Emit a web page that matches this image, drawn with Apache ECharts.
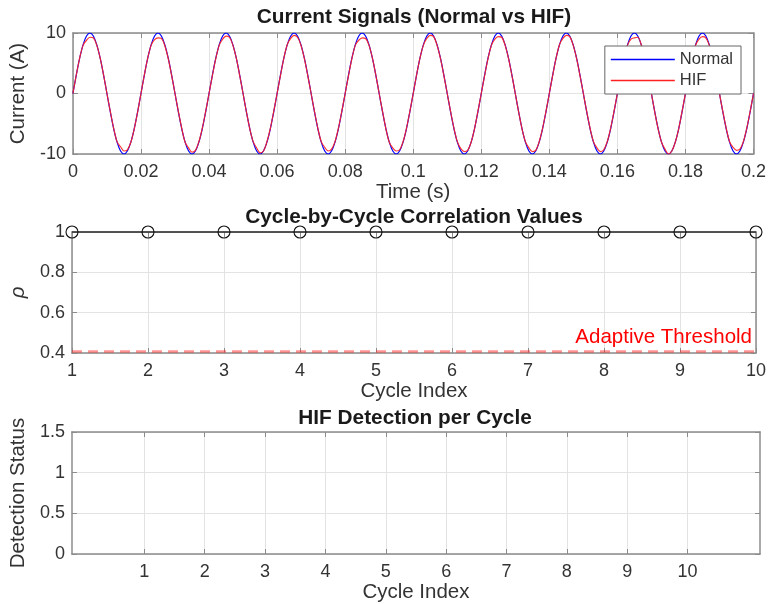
<!DOCTYPE html>
<html>
<head>
<meta charset="utf-8">
<script src="https://cdn.jsdelivr.net/npm/echarts@6/dist/echarts.min.js"></script>
<style>
  html, body { margin: 0; padding: 0; background: #fff; }
  #main { width: 769px; height: 604px; }
</style>
</head>
<body>
<div id="main"></div>
<script>
// sampling interval of the current signals (s)
var sampleStep = 0.001;

// normal current, one row per 50 Hz cycle
var normalCurrent = [
  0, 3.09, 5.88, 8.09, 9.51, 10, 9.51, 8.09, 5.88, 3.09, 0, -3.09, -5.88, -8.09, -9.51, -10, -9.51, -8.09, -5.88, -3.09,
  0, 3.09, 5.88, 8.09, 9.51, 10, 9.51, 8.09, 5.88, 3.09, 0, -3.09, -5.88, -8.09, -9.51, -10, -9.51, -8.09, -5.88, -3.09,
  0, 3.09, 5.88, 8.09, 9.51, 10, 9.51, 8.09, 5.88, 3.09, 0, -3.09, -5.88, -8.09, -9.51, -10, -9.51, -8.09, -5.88, -3.09,
  0, 3.09, 5.88, 8.09, 9.51, 10, 9.51, 8.09, 5.88, 3.09, 0, -3.09, -5.88, -8.09, -9.51, -10, -9.51, -8.09, -5.88, -3.09,
  0, 3.09, 5.88, 8.09, 9.51, 10, 9.51, 8.09, 5.88, 3.09, 0, -3.09, -5.88, -8.09, -9.51, -10, -9.51, -8.09, -5.88, -3.09,
  0, 3.09, 5.88, 8.09, 9.51, 10, 9.51, 8.09, 5.88, 3.09, 0, -3.09, -5.88, -8.09, -9.51, -10, -9.51, -8.09, -5.88, -3.09,
  0, 3.09, 5.88, 8.09, 9.51, 10, 9.51, 8.09, 5.88, 3.09, 0, -3.09, -5.88, -8.09, -9.51, -10, -9.51, -8.09, -5.88, -3.09,
  0, 3.09, 5.88, 8.09, 9.51, 10, 9.51, 8.09, 5.88, 3.09, 0, -3.09, -5.88, -8.09, -9.51, -10, -9.51, -8.09, -5.88, -3.09,
  0, 3.09, 5.88, 8.09, 9.51, 10, 9.51, 8.09, 5.88, 3.09, 0, -3.09, -5.88, -8.09, -9.51, -10, -9.51, -8.09, -5.88, -3.09,
  0, 3.09, 5.88, 8.09, 9.51, 10, 9.51, 8.09, 5.88, 3.09, 0, -3.09, -5.88, -8.09, -9.51, -10, -9.51, -8.09, -5.88, -3.09,
  0
];

// HIF current (flattened, slightly distorted peaks)
var hifCurrent = [
  0, 3.1, 5.9, 8.0, 8.8, 9.3, 9.2, 8.0, 5.9, 3.1, 0, -3.0, -5.8, -8.0, -8.8, -9.5, -9.3, -8.1, -5.9, -3.1,
  0, 3.1, 5.9, 8.0, 8.9, 9.2, 9.1, 7.9, 5.8, 3.0, 0, -3.0, -5.8, -8.1, -9.0, -9.7, -9.4, -8.0, -5.8, -3.0,
  0, 3.0, 5.8, 8.0, 9.0, 9.5, 9.3, 8.0, 5.9, 3.0, 0, -3.1, -5.9, -8.0, -9.0, -9.8, -9.5, -8.0, -5.8, -3.0,
  0, 3.0, 5.9, 8.1, 9.1, 9.6, 9.3, 8.0, 5.8, 3.0, 0, -3.0, -5.8, -8.0, -8.9, -9.5, -9.2, -8.0, -5.8, -3.0,
  0, 3.0, 5.8, 8.0, 8.8, 9.2, 9.1, 8.0, 5.9, 3.1, 0, -3.0, -5.9, -8.1, -9.0, -9.5, -9.3, -8.0, -5.8, -3.0,
  0, 3.1, 5.9, 8.0, 9.1, 9.6, 9.4, 8.0, 5.8, 3.0, 0, -3.0, -5.8, -8.0, -9.1, -9.6, -9.4, -8.1, -5.9, -3.0,
  0, 3.0, 5.8, 8.0, 9.0, 9.4, 9.3, 8.0, 5.8, 3.0, 0, -3.1, -5.9, -8.0, -9.0, -9.6, -9.4, -8.0, -5.8, -3.0,
  0, 3.0, 5.9, 8.1, 9.1, 9.6, 9.4, 8.0, 5.8, 3.0, 0, -3.0, -5.8, -8.0, -9.0, -9.6, -9.3, -8.0, -5.8, -3.0,
  0, 3.0, 5.8, 8.0, 9.0, 9.2, 9.3, 8.1, 5.9, 3.0, 0, -3.1, -5.9, -8.1, -9.2, -10.0, -9.5, -8.1, -5.9, -3.0,
  0, 3.0, 5.8, 8.0, 9.0, 9.4, 9.2, 8.0, 5.8, 3.0, 0, -3.0, -5.8, -8.0, -8.9, -9.4, -9.2, -8.0, -5.8, -3.0,
  0
];

var cycleIndex = [1, 2, 3, 4, 5, 6, 7, 8, 9, 10];
var correlation = [1, 1, 1, 1, 1, 1, 1, 1, 1, 1];
var adaptiveThreshold = 0.405;
var detectionStatus = [0, 0, 0, 0, 0, 0, 0, 0, 0, 0];

var FONT = 'Arial, "Liberation Sans", Helvetica, sans-serif';
var INK = '#333333';
var FRAME = '#8c8c8c';
var GRID = '#e3e3e3';
var TICK_SIZE = 18;
var LABEL_SIZE = 20.5;

function toPairs(xs, ys) {
  return ys.map(function (y, i) { return [xs[i], y]; });
}
var timeAxis = normalCurrent.map(function (v, i) { return +(i * sampleStep).toFixed(3); });

function mainX(grid, opt) {
  return Object.assign({
    type: 'value', gridIndex: grid, position: 'bottom',
    nameLocation: 'middle', nameGap: 27,
    nameTextStyle: { fontFamily: FONT, fontSize: LABEL_SIZE, color: INK },
    axisLine: { show: true, onZero: false, lineStyle: { color: FRAME, width: 1.5 } },
    axisTick: { show: true, inside: true, length: 5, lineStyle: { color: FRAME } },
    axisLabel: { fontFamily: FONT, fontSize: TICK_SIZE, color: INK, margin: 9 },
    splitLine: { show: true, lineStyle: { color: GRID, width: 1 } }
  }, opt);
}
function mainY(grid, opt) {
  return Object.assign({
    type: 'value', gridIndex: grid, position: 'left',
    nameLocation: 'middle', nameGap: 40,
    nameTextStyle: { fontFamily: FONT, fontSize: LABEL_SIZE, color: INK },
    axisLine: { show: true, onZero: false, lineStyle: { color: FRAME, width: 1.5 } },
    axisTick: { show: true, inside: true, length: 5, lineStyle: { color: FRAME } },
    axisLabel: { fontFamily: FONT, fontSize: TICK_SIZE, color: INK, margin: 7 },
    splitLine: { show: true, lineStyle: { color: GRID, width: 1 } }
  }, opt);
}
function mirror(base, pos) {
  var m = Object.assign({}, base, { position: pos, name: '' });
  m.axisLabel = { show: false };
  m.splitLine = { show: false };
  return m;
}

var x0 = mainX(0, { min: 0, max: 0.2, interval: 0.02, name: 'Time (s)', nameGap: 25 });
var x1 = mainX(1, { min: 1, max: 10, interval: 1, name: 'Cycle Index', nameGap: 27 });
var x2 = mainX(2, {
  min: -0.2, max: 11.2, name: 'Cycle Index', nameGap: 28,
  axisTick: { show: true, inside: true, length: 5, lineStyle: { color: FRAME }, customValues: cycleIndex },
  axisLabel: { fontFamily: FONT, fontSize: TICK_SIZE, color: INK, margin: 9, customValues: cycleIndex }
});
var y0 = mainY(0, { min: -10, max: 10, interval: 10, name: 'Current (A)', nameGap: 38 });
var y1 = mainY(1, { min: 0.4, max: 1, interval: 0.2, name: 'ρ', nameGap: 44,
  nameTextStyle: { fontFamily: FONT, fontSize: LABEL_SIZE, color: INK, fontStyle: 'italic' } });
var y2 = mainY(2, { min: 0, max: 1.5, interval: 0.5, name: 'Detection Status', nameGap: 36 });

var titleStyle = { fontFamily: FONT, fontSize: 20.8, fontWeight: 'bold', color: '#1a1a1a' };

var chart = echarts.init(document.getElementById('main'));
chart.setOption({
  animation: false,
  backgroundColor: '#fff',
  title: [
    { text: 'Current Signals (Normal vs HIF)', left: 414, top: 7, padding: 0, textAlign: 'center', textStyle: titleStyle },
    { text: 'Cycle-by-Cycle Correlation Values', left: 414, top: 207, padding: 0, textAlign: 'center', textStyle: titleStyle },
    { text: 'HIF Detection per Cycle', left: 415, top: 408, padding: 0, textAlign: 'center', textStyle: titleStyle }
  ],
  legend: {
    data: [{ name: 'Normal', icon: 'rect' }, { name: 'HIF', icon: 'rect' }],
    orient: 'vertical',
    right: 28, top: 46,
    padding: [5, 8, 5, 6],
    itemWidth: 64, itemHeight: 1.5, itemGap: 4,
    backgroundColor: '#fff',
    borderColor: '#666', borderWidth: 1,
    textStyle: { fontFamily: FONT, fontSize: 16.5, color: INK }
  },
  grid: [
    { left: 69, top: 33, width: 690, height: 121, show: false },
    { left: 69, top: 232, width: 689, height: 121, show: false },
    { left: 69, top: 432, width: 691, height: 122, show: false }
  ],
  xAxis: [x0, mirror(x0, 'top'), x1, mirror(x1, 'top'), x2, mirror(x2, 'top')],
  yAxis: [y0, mirror(y0, 'right'), y1, mirror(y1, 'right'), y2, mirror(y2, 'right')],
  series: [
    {
      name: 'Normal', type: 'line', xAxisIndex: 0, yAxisIndex: 0,
      data: toPairs(timeAxis, normalCurrent), symbol: 'none', smooth: 0.3,
      lineStyle: { color: '#0000ff', width: 1.2 }, itemStyle: { color: '#0000ff' }
    },
    {
      name: 'HIF', type: 'line', xAxisIndex: 0, yAxisIndex: 0,
      data: toPairs(timeAxis, hifCurrent), symbol: 'none', smooth: 0.3,
      lineStyle: { color: '#ff2020', width: 1.2, opacity: 0.9 }, itemStyle: { color: '#ff2020' }
    },
    {
      name: 'Correlation', type: 'line', xAxisIndex: 2, yAxisIndex: 2,
      data: toPairs(cycleIndex, correlation), clip: false,
      symbol: 'circle', symbolSize: 12, z: 5,
      lineStyle: { color: '#000', width: 1.2 },
      itemStyle: { color: 'rgba(0,0,0,0)', borderColor: '#111', borderWidth: 1.1 },
      markLine: {
        silent: true, symbol: 'none', z: 3,
        data: [{ yAxis: adaptiveThreshold }],
        lineStyle: { color: 'rgba(255,40,40,0.5)', type: [10, 6], width: 2.5 },
        label: {
          show: true, position: 'insideEndTop', distance: [4, 3],
          formatter: 'Adaptive Threshold',
          fontFamily: FONT, fontSize: 20.5, color: '#ff0000'
        }
      }
    },
    {
      name: 'Detection', type: 'bar', xAxisIndex: 4, yAxisIndex: 4,
      data: toPairs(cycleIndex, detectionStatus), barWidth: 40,
      itemStyle: { color: '#0072bd' }
    }
  ]
});
</script>
</body>
</html>
